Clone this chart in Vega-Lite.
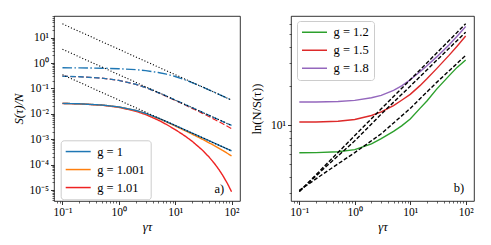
{
"$schema": "https://vega.github.io/schema/vega-lite/v6.json",
"padding": {"left": 11, "top": 15, "right": 5, "bottom": 5},
"background": "white",
"config": {
  "font": "Liberation Serif",
  "view": {"stroke": "black", "strokeWidth": 0.8},
  "axis": {"domain": false, "grid": false, "tickColor": "black", "tickWidth": 0.8, "tickSize": 3.5, "labelFont": "Liberation Serif", "labelFontSize": 11.5, "labelColor": "black", "titleFont": "Liberation Serif", "titleFontSize": 12.5, "titleFontWeight": "normal", "titleColor": "black", "labelPadding": 2},
  "legend": {"title": null, "symbolType": "M-1.25,0H3.75", "symbolSize": 100, "symbolStrokeWidth": 1.5, "labelFont": "Liberation Serif", "labelFontSize": 12.5, "labelColor": "black", "labelOffset": 19, "padding": 5, "rowPadding": 5, "fillColor": "rgba(255,255,255,0.8)", "strokeColor": "#cccccc", "cornerRadius": 3, "labelLimit": 200}
},
"datasets": {
  "L": [
    {"x":0.1,"y":0.02591,"g":"g = 1","s":"solid"},{"x":0.2,"y":0.02496,"g":"g = 1","s":"solid"},{"x":0.5,"y":0.02235,"g":"g = 1","s":"solid"},{"x":1,"y":0.01878,"g":"g = 1","s":"solid"},{"x":2,"y":0.01374,"g":"g = 1","s":"solid"},{"x":3,"y":0.01051,"g":"g = 1","s":"solid"},{"x":5,"y":0.006851,"g":"g = 1","s":"solid"},{"x":7,"y":0.004977,"g":"g = 1","s":"solid"},{"x":10,"y":0.003498,"g":"g = 1","s":"solid"},{"x":15,"y":0.002333,"g":"g = 1","s":"solid"},{"x":20,"y":0.00175,"g":"g = 1","s":"solid"},{"x":30,"y":0.001167,"g":"g = 1","s":"solid"},{"x":50,"y":0.0007,"g":"g = 1","s":"solid"},{"x":70,"y":0.0005,"g":"g = 1","s":"solid"},{"x":100,"y":0.00035,"g":"g = 1","s":"solid"},
    {"x":0.1,"y":0.0259,"g":"g = 1.001","s":"solid"},{"x":0.2,"y":0.02494,"g":"g = 1.001","s":"solid"},{"x":0.5,"y":0.0223,"g":"g = 1.001","s":"solid"},{"x":1,"y":0.01869,"g":"g = 1.001","s":"solid"},{"x":2,"y":0.01361,"g":"g = 1.001","s":"solid"},{"x":3,"y":0.01037,"g":"g = 1.001","s":"solid"},{"x":5,"y":0.006695,"g":"g = 1.001","s":"solid"},{"x":7,"y":0.004819,"g":"g = 1.001","s":"solid"},{"x":10,"y":0.003341,"g":"g = 1.001","s":"solid"},{"x":15,"y":0.002177,"g":"g = 1.001","s":"solid"},{"x":20,"y":0.001596,"g":"g = 1.001","s":"solid"},{"x":30,"y":0.001017,"g":"g = 1.001","s":"solid"},{"x":50,"y":0.000556,"g":"g = 1.001","s":"solid"},{"x":70,"y":0.0003624,"g":"g = 1.001","s":"solid"},{"x":100,"y":0.000221,"g":"g = 1.001","s":"solid"},
    {"x":0.1,"y":0.02581,"g":"g = 1.01","s":"solid"},{"x":0.2,"y":0.02478,"g":"g = 1.01","s":"solid"},{"x":0.5,"y":0.02194,"g":"g = 1.01","s":"solid"},{"x":1,"y":0.0181,"g":"g = 1.01","s":"solid"},{"x":2,"y":0.01276,"g":"g = 1.01","s":"solid"},{"x":3,"y":0.009406,"g":"g = 1.01","s":"solid"},{"x":5,"y":0.005694,"g":"g = 1.01","s":"solid"},{"x":7,"y":0.003841,"g":"g = 1.01","s":"solid"},{"x":10,"y":0.002416,"g":"g = 1.01","s":"solid"},{"x":15,"y":0.001339,"g":"g = 1.01","s":"solid"},{"x":20,"y":0.000835,"g":"g = 1.01","s":"solid"},{"x":30,"y":0.0003846,"g":"g = 1.01","s":"solid"},{"x":40,"y":0.0001992,"g":"g = 1.01","s":"solid"},{"x":50,"y":0.00011,"g":"g = 1.01","s":"solid"},{"x":60,"y":0.00006336,"g":"g = 1.01","s":"solid"},{"x":70,"y":0.0000375,"g":"g = 1.01","s":"solid"},{"x":85,"y":0.00001773,"g":"g = 1.01","s":"solid"},{"x":100,"y":0.00000865,"g":"g = 1.01","s":"solid"},
    {"x":0.1,"y":0.304,"g":"g = 1","s":"dashed"},{"x":0.2,"y":0.291,"g":"g = 1","s":"dashed"},{"x":0.5,"y":0.2557,"g":"g = 1","s":"dashed"},{"x":1,"y":0.209,"g":"g = 1","s":"dashed"},{"x":2,"y":0.1466,"g":"g = 1","s":"dashed"},{"x":3,"y":0.109,"g":"g = 1","s":"dashed"},{"x":5,"y":0.06926,"g":"g = 1","s":"dashed"},{"x":7,"y":0.04991,"g":"g = 1","s":"dashed"},{"x":10,"y":0.035,"g":"g = 1","s":"dashed"},{"x":15,"y":0.02333,"g":"g = 1","s":"dashed"},{"x":20,"y":0.0175,"g":"g = 1","s":"dashed"},{"x":30,"y":0.01167,"g":"g = 1","s":"dashed"},{"x":50,"y":0.007,"g":"g = 1","s":"dashed"},{"x":70,"y":0.005,"g":"g = 1","s":"dashed"},{"x":100,"y":0.0035,"g":"g = 1","s":"dashed"},
    {"x":0.1,"y":0.304,"g":"g = 1.01","s":"dashed"},{"x":0.2,"y":0.29,"g":"g = 1.01","s":"dashed"},{"x":0.5,"y":0.2553,"g":"g = 1.01","s":"dashed"},{"x":1,"y":0.2084,"g":"g = 1.01","s":"dashed"},{"x":2,"y":0.1457,"g":"g = 1.01","s":"dashed"},{"x":3,"y":0.108,"g":"g = 1.01","s":"dashed"},{"x":5,"y":0.06826,"g":"g = 1.01","s":"dashed"},{"x":7,"y":0.04891,"g":"g = 1.01","s":"dashed"},{"x":10,"y":0.034,"g":"g = 1.01","s":"dashed"},{"x":15,"y":0.02234,"g":"g = 1.01","s":"dashed"},{"x":20,"y":0.01651,"g":"g = 1.01","s":"dashed"},{"x":30,"y":0.0107,"g":"g = 1.01","s":"dashed"},{"x":50,"y":0.006055,"g":"g = 1.01","s":"dashed"},{"x":70,"y":0.004081,"g":"g = 1.01","s":"dashed"},{"x":100,"y":0.002619,"g":"g = 1.01","s":"dashed"},
    {"x":0.1,"y":0.654,"g":"g = 1","s":"dashdot"},{"x":0.2,"y":0.648,"g":"g = 1","s":"dashdot"},{"x":0.5,"y":0.63,"g":"g = 1","s":"dashdot"},{"x":1,"y":0.602,"g":"g = 1","s":"dashdot"},{"x":2,"y":0.55,"g":"g = 1","s":"dashdot"},{"x":3,"y":0.504,"g":"g = 1","s":"dashdot"},{"x":5,"y":0.427,"g":"g = 1","s":"dashdot"},{"x":7,"y":0.367,"g":"g = 1","s":"dashdot"},{"x":10,"y":0.297,"g":"g = 1","s":"dashdot"},{"x":15,"y":0.2196,"g":"g = 1","s":"dashdot"},{"x":20,"y":0.171,"g":"g = 1","s":"dashdot"},{"x":30,"y":0.1163,"g":"g = 1","s":"dashdot"},{"x":50,"y":0.07,"g":"g = 1","s":"dashdot"},{"x":70,"y":0.05,"g":"g = 1","s":"dashdot"},{"x":100,"y":0.035,"g":"g = 1","s":"dashdot"}
  ],
  "LA": [
    {"x":0.1,"y":35,"k":"a"},{"x":100,"y":0.035,"k":"a"},
    {"x":0.1,"y":3.5,"k":"b"},{"x":100,"y":0.0035,"k":"b"},
    {"x":0.1,"y":0.35,"k":"c"},{"x":100,"y":0.00035,"k":"c"}
  ],
  "R": [
    {"x":0.1,"v":6.15,"h":"g = 1.2"},{"x":0.2,"v":6.17,"h":"g = 1.2"},{"x":0.5,"v":6.27,"h":"g = 1.2"},{"x":1,"v":6.5,"h":"g = 1.2"},{"x":2,"v":7.2,"h":"g = 1.2"},{"x":3,"v":7.9,"h":"g = 1.2"},{"x":5,"v":9.0,"h":"g = 1.2"},{"x":7,"v":9.9,"h":"g = 1.2"},{"x":10,"v":11.2,"h":"g = 1.2"},{"x":15,"v":13.5,"h":"g = 1.2"},{"x":20,"v":15.4,"h":"g = 1.2"},{"x":30,"v":19.0,"h":"g = 1.2"},{"x":50,"v":24.0,"h":"g = 1.2"},{"x":70,"v":27.9,"h":"g = 1.2"},{"x":100,"v":31.8,"h":"g = 1.2"},
    {"x":0.1,"v":10.6,"h":"g = 1.5"},{"x":0.2,"v":10.62,"h":"g = 1.5"},{"x":0.5,"v":10.75,"h":"g = 1.5"},{"x":1,"v":11.1,"h":"g = 1.5"},{"x":2,"v":11.9,"h":"g = 1.5"},{"x":3,"v":12.7,"h":"g = 1.5"},{"x":5,"v":14.2,"h":"g = 1.5"},{"x":7,"v":15.6,"h":"g = 1.5"},{"x":10,"v":17.3,"h":"g = 1.5"},{"x":15,"v":20.2,"h":"g = 1.5"},{"x":20,"v":22.8,"h":"g = 1.5"},{"x":30,"v":27.3,"h":"g = 1.5"},{"x":50,"v":34.5,"h":"g = 1.5"},{"x":70,"v":40.6,"h":"g = 1.5"},{"x":100,"v":48.6,"h":"g = 1.5"},
    {"x":0.1,"v":15.1,"h":"g = 1.8"},{"x":0.2,"v":15.12,"h":"g = 1.8"},{"x":0.5,"v":15.25,"h":"g = 1.8"},{"x":1,"v":15.55,"h":"g = 1.8"},{"x":2,"v":16.3,"h":"g = 1.8"},{"x":3,"v":17.0,"h":"g = 1.8"},{"x":5,"v":18.6,"h":"g = 1.8"},{"x":7,"v":20.1,"h":"g = 1.8"},{"x":10,"v":22.4,"h":"g = 1.8"},{"x":15,"v":25.8,"h":"g = 1.8"},{"x":20,"v":28.7,"h":"g = 1.8"},{"x":30,"v":33.6,"h":"g = 1.8"},{"x":50,"v":41.5,"h":"g = 1.8"},{"x":70,"v":48.5,"h":"g = 1.8"},{"x":100,"v":57.5,"h":"g = 1.8"}
  ],
  "RD": [
    {"x":0.1,"v":3.1,"k":"p"},{"x":0.3,"v":4.97,"k":"p"},{"x":1,"v":8.34,"k":"p"},{"x":3,"v":13.4,"k":"p"},{"x":10,"v":22.4,"k":"p"},{"x":30,"v":36.0,"k":"p"},{"x":100,"v":60.4,"k":"p"},
    {"x":0.1,"v":3.1,"k":"r"},{"x":0.3,"v":4.8,"k":"r"},{"x":1,"v":7.6,"k":"r"},{"x":3,"v":12.2,"k":"r"},{"x":10,"v":20.0,"k":"r"},{"x":30,"v":31.6,"k":"r"},{"x":100,"v":52.0,"k":"r"},
    {"x":0.1,"v":3.16,"k":"g"},{"x":0.3,"v":4.37,"k":"g"},{"x":1,"v":6.17,"k":"g"},{"x":3,"v":8.61,"k":"g"},{"x":10,"v":13.5,"k":"g"},{"x":30,"v":21.4,"k":"g"},{"x":100,"v":34.5,"k":"g"}
  ]
},
"spacing": 51,
"bounds": "flush",
"resolve": {"scale": {"color": "independent", "strokeDash": "independent"}, "legend": {"color": "independent"}},
"hconcat": [
  {
    "width": 186, "height": 185,
    "resolve": {"axis": {"x": "independent", "y": "independent"}},
    "layer": [
      {"data": {"name": "L"}, "transform": [{"filter": "datum.g == 'g = 1.01' && datum.s == 'solid'"}],
       "mark": {"type": "line", "strokeWidth": 1.4, "clip": true},
       "encoding": {
         "x": {"field": "x", "type": "quantitative", "scale": {"type": "log", "domain": [0.0708, 141.3], "nice": false}, "axis": {"values": [0.1, 1, 10, 100], "labelExpr": "datum.value < 0.5 ? '10⁻¹' : datum.value < 5 ? '10⁰' : datum.value < 50 ? '10¹' : '10²'", "title": "γτ", "titleFontStyle": "italic", "minExtent": 18, "maxExtent": 18, "titlePadding": 1}},
         "y": {"field": "y", "type": "quantitative", "scale": {"type": "log", "domain": [0.00000372, 71.4], "nice": false}, "axis": {"values": [0.00001, 0.0001, 0.001, 0.01, 0.1, 1, 10], "labelExpr": "['10⁻⁵','10⁻⁴','10⁻³','10⁻²','10⁻¹','10⁰','10¹'][round(log(datum.value)/LN10)+5]", "title": "S(τ)/N", "titleFontStyle": "italic", "minExtent": 27, "maxExtent": 27, "titlePadding": 2}},
         "color": {"field": "g", "type": "nominal", "scale": {"domain": ["g = 1", "g = 1.001", "g = 1.01"], "range": ["#1f77b4", "#ff7f0e", "#ee2222"]}, "legend": {"orient": "none", "legendX": 6.7, "legendY": 124.3, "labelFont": "Liberation Serif"}},
         "strokeDash": {"field": "s", "type": "nominal", "scale": {"domain": ["solid", "dashed", "dashdot"], "range": [[1, 0], [5.5, 2.4], [9.6, 2.4, 1.5, 2.4]]}, "legend": null}
       }},
      {"data": {"name": "L"}, "transform": [{"filter": "datum.g == 'g = 1.01' && datum.s == 'dashed'"}],
       "mark": {"type": "line", "strokeWidth": 1.15, "clip": true},
       "encoding": {
         "x": {"field": "x", "type": "quantitative", "scale": {"type": "log", "domain": [0.0708, 141.3], "nice": false}, "axis": null},
         "y": {"field": "y", "type": "quantitative", "scale": {"type": "log", "domain": [0.00000372, 71.4], "nice": false}, "axis": null},
         "color": {"field": "g", "type": "nominal", "scale": {"domain": ["g = 1", "g = 1.001", "g = 1.01"], "range": ["#1f77b4", "#ff7f0e", "#ee2222"]}, "legend": {"orient": "none", "legendX": 6.7, "legendY": 124.3, "labelFont": "Liberation Serif"}},
         "strokeDash": {"field": "s", "type": "nominal", "scale": {"domain": ["solid", "dashed", "dashdot"], "range": [[1, 0], [5.5, 2.4], [9.6, 2.4, 1.5, 2.4]]}, "legend": null}
       }},
      {"data": {"name": "L"}, "transform": [{"filter": "datum.g == 'g = 1.001'"}],
       "mark": {"type": "line", "strokeWidth": 1.4, "clip": true},
       "encoding": {
         "x": {"field": "x", "type": "quantitative", "scale": {"type": "log", "domain": [0.0708, 141.3], "nice": false}, "axis": null},
         "y": {"field": "y", "type": "quantitative", "scale": {"type": "log", "domain": [0.00000372, 71.4], "nice": false}, "axis": null},
         "color": {"field": "g", "type": "nominal", "scale": {"domain": ["g = 1", "g = 1.001", "g = 1.01"], "range": ["#1f77b4", "#ff7f0e", "#ee2222"]}, "legend": {"orient": "none", "legendX": 6.7, "legendY": 124.3, "labelFont": "Liberation Serif"}},
         "strokeDash": {"field": "s", "type": "nominal", "scale": {"domain": ["solid", "dashed", "dashdot"], "range": [[1, 0], [5.5, 2.4], [9.6, 2.4, 1.5, 2.4]]}, "legend": null}
       }},
      {"data": {"name": "L"}, "transform": [{"filter": "datum.g == 'g = 1'"}],
       "mark": {"type": "line", "strokeWidth": 1.4, "clip": true},
       "encoding": {
         "x": {"field": "x", "type": "quantitative", "scale": {"type": "log", "domain": [0.0708, 141.3], "nice": false}, "axis": null},
         "y": {"field": "y", "type": "quantitative", "scale": {"type": "log", "domain": [0.00000372, 71.4], "nice": false}, "axis": null},
         "color": {"field": "g", "type": "nominal", "scale": {"domain": ["g = 1", "g = 1.001", "g = 1.01"], "range": ["#1f77b4", "#ff7f0e", "#ee2222"]}, "legend": {"orient": "none", "legendX": 6.7, "legendY": 124.3, "labelFont": "Liberation Serif"}},
         "strokeDash": {"field": "s", "type": "nominal", "scale": {"domain": ["solid", "dashed", "dashdot"], "range": [[1, 0], [5.5, 2.4], [9.6, 2.4, 1.5, 2.4]]}, "legend": null}
       }},
      {"data": {"name": "LA"},
       "mark": {"type": "line", "strokeWidth": 1.1, "color": "black", "strokeDash": [1.1, 2.0], "clip": true},
       "encoding": {
         "x": {"field": "x", "type": "quantitative", "scale": {"type": "log", "domain": [0.0708, 141.3], "nice": false}, "axis": null},
         "y": {"field": "y", "type": "quantitative", "scale": {"type": "log", "domain": [0.00000372, 71.4], "nice": false}, "axis": null},
         "detail": {"field": "k", "type": "nominal"}
       }},
      {"data": {"values": [{"x": 60.5, "y": 0.000011, "t": "a)"}]},
       "mark": {"type": "text", "fontSize": 12.5, "font": "Liberation Serif", "color": "black"},
       "encoding": {
         "x": {"field": "x", "type": "quantitative", "scale": {"type": "log", "domain": [0.0708, 141.3], "nice": false}, "axis": null},
         "y": {"field": "y", "type": "quantitative", "scale": {"type": "log", "domain": [0.00000372, 71.4], "nice": false}, "axis": null},
         "text": {"field": "t"}
       }},
      {"data": {"name": "LA"},
       "mark": {"type": "point", "opacity": 0},
       "encoding": {
         "x": {"field": "x", "type": "quantitative", "scale": {"type": "log", "domain": [0.0708, 141.3], "nice": false}, "axis": {"orient": "bottom", "values": [0.08,0.09,0.2,0.3,0.4,0.5,0.6,0.7,0.8,0.9,2,3,4,5,6,7,8,9,20,30,40,50,60,70,80,90], "labels": false, "tickSize": 2, "tickWidth": 0.6, "title": null}},
         "y": {"field": "y", "type": "quantitative", "scale": {"type": "log", "domain": [0.00000372, 71.4], "nice": false}, "axis": {"orient": "left", "values": [0.000004,0.000005,0.000006,0.000007,0.000008,0.000009,0.00002,0.00003,0.00004,0.00005,0.00006,0.00007,0.00008,0.00009,0.0002,0.0003,0.0004,0.0005,0.0006,0.0007,0.0008,0.0009,0.002,0.003,0.004,0.005,0.006,0.007,0.008,0.009,0.02,0.03,0.04,0.05,0.06,0.07,0.08,0.09,0.2,0.3,0.4,0.5,0.6,0.7,0.8,0.9,2,3,4,5,6,7,8,9,20,30,40,50,60,70], "labels": false, "tickSize": 2, "tickWidth": 0.6, "title": null}}
       }}
    ]
  },
  {
    "width": 183, "height": 185,
    "resolve": {"axis": {"x": "independent", "y": "independent"}},
    "layer": [
      {"data": {"name": "R"},
       "mark": {"type": "line", "strokeWidth": 1.4, "clip": true},
       "encoding": {
         "x": {"field": "x", "type": "quantitative", "scale": {"type": "log", "domain": [0.0708, 141.3], "nice": false}, "axis": {"values": [0.1, 1, 10, 100], "labelExpr": "datum.value < 0.5 ? '10⁻¹' : datum.value < 5 ? '10⁰' : datum.value < 50 ? '10¹' : '10²'", "title": "γτ", "titleFontStyle": "italic", "minExtent": 18, "maxExtent": 18, "titlePadding": 1}},
         "y": {"field": "v", "type": "quantitative", "scale": {"type": "log", "domain": [2.62, 69.3], "nice": false}, "axis": {"values": [10], "labelExpr": "'10¹'", "title": "ln(N/S(τ))", "minExtent": 27, "maxExtent": 27, "titlePadding": 1}},
         "color": {"field": "h", "type": "nominal", "scale": {"domain": ["g = 1.2", "g = 1.5", "g = 1.8"], "range": ["#2ca02c", "#dd2a2a", "#9467bd"]}, "legend": {"orient": "none", "legendX": 6, "legendY": 5, "labelFont": "Liberation Serif"}}
       }},
      {"data": {"name": "RD"},
       "mark": {"type": "line", "strokeWidth": 1.4, "color": "black", "strokeDash": [4, 2], "clip": true},
       "encoding": {
         "x": {"field": "x", "type": "quantitative", "scale": {"type": "log", "domain": [0.0708, 141.3], "nice": false}, "axis": null},
         "y": {"field": "v", "type": "quantitative", "scale": {"type": "log", "domain": [2.62, 69.3], "nice": false}, "axis": null},
         "detail": {"field": "k", "type": "nominal"}
       }},
      {"data": {"values": [{"x": 76, "v": 3.27, "t": "b)"}]},
       "mark": {"type": "text", "fontSize": 12.5, "font": "Liberation Serif", "color": "black"},
       "encoding": {
         "x": {"field": "x", "type": "quantitative", "scale": {"type": "log", "domain": [0.0708, 141.3], "nice": false}, "axis": null},
         "y": {"field": "v", "type": "quantitative", "scale": {"type": "log", "domain": [2.62, 69.3], "nice": false}, "axis": null},
         "text": {"field": "t"}
       }},
      {"data": {"name": "RD"},
       "mark": {"type": "point", "opacity": 0},
       "encoding": {
         "x": {"field": "x", "type": "quantitative", "scale": {"type": "log", "domain": [0.0708, 141.3], "nice": false}, "axis": {"orient": "bottom", "values": [0.08,0.09,0.2,0.3,0.4,0.5,0.6,0.7,0.8,0.9,2,3,4,5,6,7,8,9,20,30,40,50,60,70,80,90], "labels": false, "tickSize": 2, "tickWidth": 0.6, "title": null}},
         "y": {"field": "v", "type": "quantitative", "scale": {"type": "log", "domain": [2.62, 69.3], "nice": false}, "axis": {"orient": "left", "values": [3,4,5,6,7,8,9,20,30,40,50,60], "labels": false, "tickSize": 2, "tickWidth": 0.6, "title": null}}
       }}
    ]
  }
]
}
